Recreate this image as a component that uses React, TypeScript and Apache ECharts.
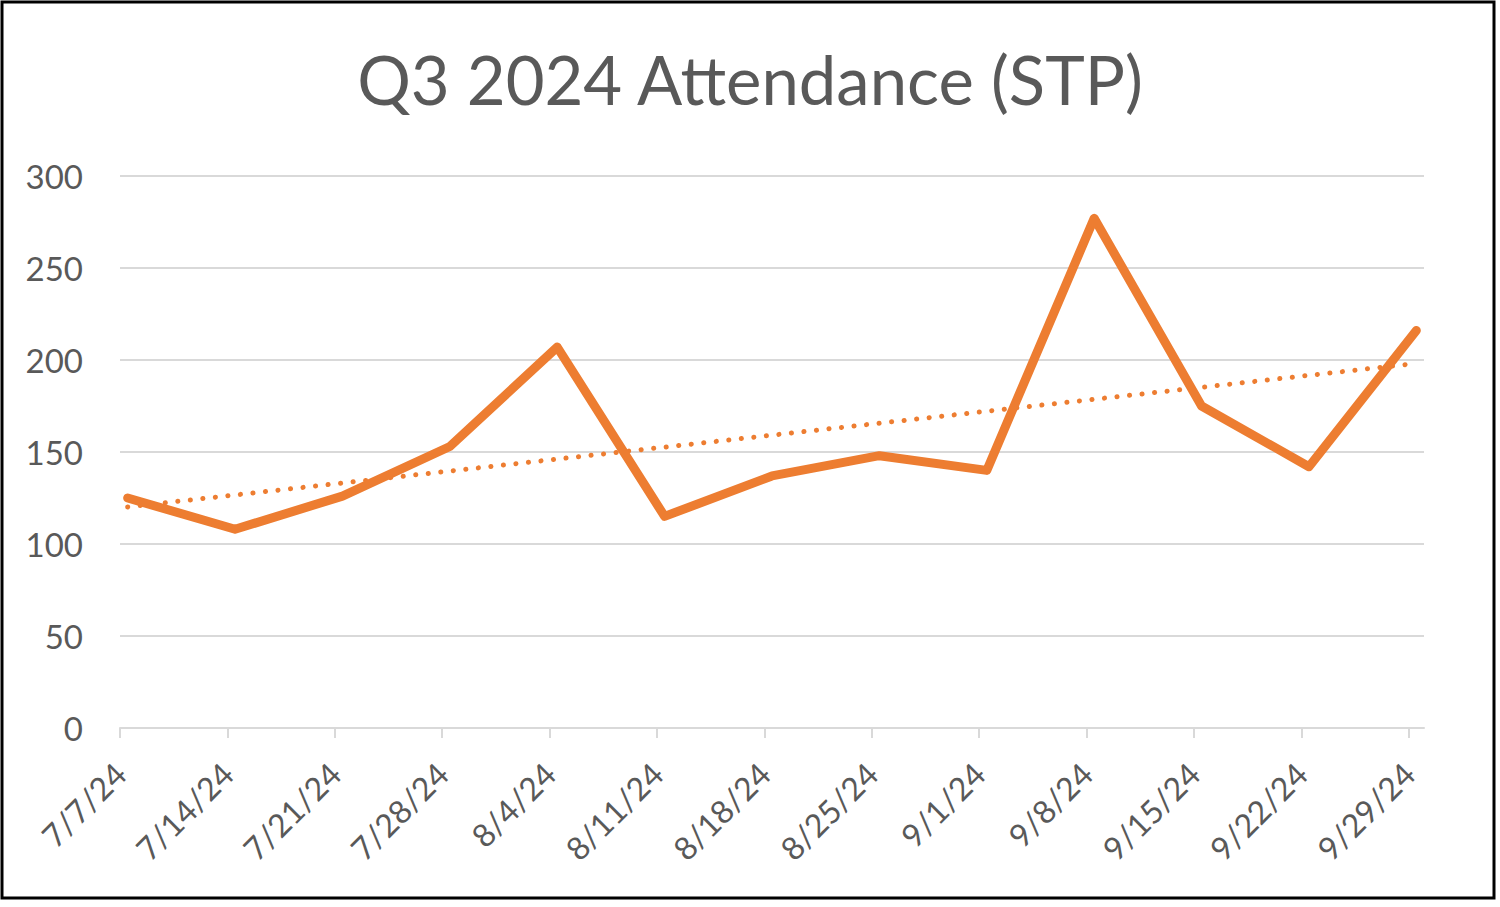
import React, { useEffect, useRef } from "react";
import * as echarts from "echarts";

const TITLE = "Q3 2024 Attendance (STP)";
const categories = ["7/7/24", "7/14/24", "7/21/24", "7/28/24", "8/4/24", "8/11/24", "8/18/24", "8/25/24", "9/1/24", "9/8/24", "9/15/24", "9/22/24", "9/29/24"];
const attendance = [125, 108, 126, 153, 207, 115, 137, 148, 140, 277, 175, 142, 216];
const yTicks = [0, 50, 100, 150, 200, 250, 300];

const DAY = 86400000;
function parseDate(s: string): number {
  const [m, d, y] = s.split("/").map(Number);
  return Date.UTC(2000 + y, m - 1, d);
}
const t0 = parseDate(categories[0]);
const dayIdx = categories.map((c) => Math.round((parseDate(c) - t0) / DAY));
const xs = dayIdx.map((d) => d + 0.5);
const lastDay = dayIdx[dayIdx.length - 1];

function fmt(v: number): string {
  const dt = new Date(t0 + Math.round(v) * DAY);
  return `${dt.getUTCMonth() + 1}/${dt.getUTCDate()}/${String(dt.getUTCFullYear() % 100)}`;
}

// linear trendline (least squares), as Excel's linear trendline
const n = xs.length;
const mx = xs.reduce((a, b) => a + b, 0) / n;
const my = attendance.reduce((a, b) => a + b, 0) / n;
let sxy = 0, sxx = 0;
for (let i = 0; i < n; i++) {
  sxy += (xs[i] - mx) * (attendance[i] - my);
  sxx += (xs[i] - mx) * (xs[i] - mx);
}
const slope = sxy / sxx;
const icpt = my - slope * mx;
const trend = [xs[0], xs[n - 1]].map((x) => [x, icpt + slope * x]);

export default function App() {
  const ref = useRef<HTMLDivElement>(null);
  useEffect(() => {
    document.body.style.margin = "0";
    const chart = echarts.init(ref.current!, null, { renderer: "svg" });
    const FONT = "Lato";
    const GRAY = "#595959";
    chart.setOption({
      animation: false,
      backgroundColor: "#ffffff",
      title: {
        text: TITLE,
        left: "center",
        top: 40,
        textStyle: { fontFamily: FONT, fontSize: 67, fontWeight: "normal", color: GRAY },
      },
      grid: { left: 120, right: 76, top: 176, bottom: 179, containLabel: false },
      xAxis: {
        type: "value",
        min: 0,
        max: lastDay + 1,
        interval: 7,
        splitLine: { show: false },
        axisLine: { show: true, lineStyle: { color: "#D9D9D9", width: 2 } },
        axisTick: { show: true, length: 10, customValues: dayIdx, lineStyle: { color: "#D9D9D9", width: 2 } },
        axisLabel: {
          customValues: dayIdx,
          rotate: 45,
          margin: 40,
          formatter: (v: number) => fmt(v),
          fontFamily: FONT,
          fontSize: 32,
          color: GRAY,
        },
      },
      yAxis: {
        type: "value",
        min: yTicks[0],
        max: yTicks[yTicks.length - 1],
        interval: 50,
        axisLine: { show: false },
        axisTick: { show: false },
        splitLine: { lineStyle: { color: "#D9D9D9", width: 2 } },
        axisLabel: { margin: 37, fontFamily: FONT, fontSize: 33, color: GRAY },
      },
      series: [
        {
          type: "line",
          name: "Attendance",
          data: xs.map((x, i) => [x, attendance[i]]),
          showSymbol: false,
          lineStyle: { color: "#ED7D31", width: 9, cap: "round", join: "round" },
          z: 3,
        },
        {
          type: "line",
          name: "Linear (Attendance)",
          data: trend,
          showSymbol: false,
          lineStyle: { color: "#ED7D31", width: 5, type: [0.1, 12.5], cap: "round" },
          z: 2,
        },
      ],
      graphic: [
        {
          type: "rect",
          shape: { x: 2, y: 2, width: 1492, height: 896 },
          style: { fill: "none", stroke: "#000000", lineWidth: 3 },
          silent: true,
        },
      ],
    });
    return () => chart.dispose();
  }, []);
  return <div ref={ref} style={{ position: "absolute", left: 0, top: 0, width: 1500, height: 907 }} />;
}
